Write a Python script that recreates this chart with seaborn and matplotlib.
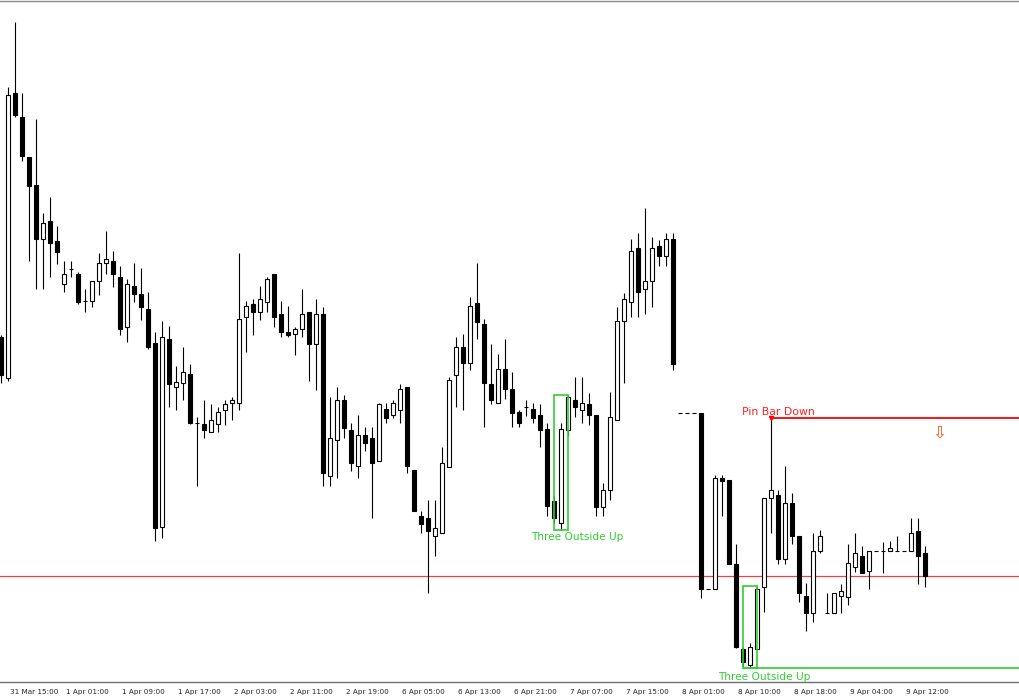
import numpy as np
import matplotlib
matplotlib.use("Agg")
import matplotlib.pyplot as plt
import matplotlib.transforms as mtransforms
from matplotlib.patches import Rectangle
import seaborn as sns

# hourly candles, first one is the bar before "31 Mar 15:00"
opens = [1.1163,
         1.1122, 1.1407, 1.1383, 1.1343, 1.1315, 1.1261, 1.1279, 1.1259,
         1.1216, 1.1231, 1.1226, 1.1199, 1.1199, 1.1219, 1.1237, 1.1239,
         1.1223, 1.1173, 1.1214, 1.1206, 1.1191, 1.1157, 1.0973, 1.1161,
         1.1113, 1.1117, 1.1126, 1.1077, 1.1076, 1.1068, 1.1076, 1.1090,
         1.1097, 1.1097, 1.1183, 1.1196, 1.1188, 1.1198, 1.1226, 1.1186,
         1.1168, 1.1166, 1.1171, 1.1188, 1.1156, 1.1186, 1.1024, 1.1060,
         1.1100, 1.1070, 1.1034, 1.1065, 1.1062, 1.1039, 1.1091, 1.1085,
         1.1090, 1.1113, 1.1030, 1.0984, 1.0982, 1.0964, 1.0967, 1.1033,
         1.1125, 1.1153, 1.1137, 1.1197, 1.1176, 1.1116, 1.1097, 1.1131,
         1.1111, 1.1088, 1.1093, 1.1091, 1.1085, 1.1071, 1.0999, 1.0977,
         1.1070, 1.1100, 1.1090, 1.1096, 1.1085, 1.0993, 1.1010, 1.1080,
         1.1179, 1.1198, 1.1252, 1.1211, 1.1219, 1.1254, 1.1244, 1.1261,
         1.1087, 1.1087, 1.1087, 1.1087, 1.0911, 1.0911, 1.1022, 1.1020,
         1.0936, 1.0851, 1.0835, 1.0851, 1.0913, 1.1002, 1.1005, 1.0941,
         1.0997, 1.0964, 1.0904, 1.0887, 1.0949, 1.0887, 1.0887, 1.0904,
         1.0903, 1.0933, 1.0944, 1.0929, 1.0949, 1.0949, 1.0949, 1.0949,
         1.0949, 1.0949, 1.0969, 1.0947]

highs = [1.1165,
         1.1413, 1.1478, 1.1407, 1.1343, 1.1381, 1.1287, 1.1303, 1.1274,
         1.1239, 1.1239, 1.1228, 1.1211, 1.1219, 1.1247, 1.1269, 1.1249,
         1.1234, 1.1221, 1.1237, 1.1232, 1.1208, 1.1168, 1.1179, 1.1174,
         1.1134, 1.1153, 1.1136, 1.1083, 1.1100, 1.1096, 1.1093, 1.1100,
         1.1103, 1.1247, 1.1199, 1.1201, 1.1214, 1.1223, 1.1226, 1.1199,
         1.1194, 1.1173, 1.1211, 1.1188, 1.1201, 1.1193, 1.1103, 1.1113,
         1.1105, 1.1077, 1.1085, 1.1073, 1.1073, 1.1097, 1.1097, 1.1100,
         1.1116, 1.1113, 1.1030, 1.0989, 1.1000, 1.1000, 1.1053, 1.1123,
         1.1163, 1.1166, 1.1203, 1.1237, 1.1181, 1.1156, 1.1146, 1.1161,
         1.1128, 1.1090, 1.1100, 1.1097, 1.1096, 1.1077, 1.1004, 1.1077,
         1.1105, 1.1123, 1.1123, 1.1107, 1.1085, 1.1017, 1.1108, 1.1193,
         1.1207, 1.1261, 1.1267, 1.1292, 1.1263, 1.1260, 1.1267, 1.1267,
         1.1087, 1.1087, 1.1087, 1.1087, 1.0911, 1.1025, 1.1025, 1.1020,
         1.0956, 1.0853, 1.0857, 1.0914, 1.1002, 1.1082, 1.1010, 1.1034,
         1.1007, 1.0964, 1.0917, 1.0967, 1.0970, 1.0907, 1.0907, 1.0916,
         1.0956, 1.0967, 1.0954, 1.0949, 1.0949, 1.0958, 1.0959, 1.0964,
         1.0949, 1.0982, 1.0982, 1.0954]

lows = [1.1117,
        1.1119, 1.1383, 1.1339, 1.1239, 1.1211, 1.1211, 1.1223, 1.1236,
        1.1208, 1.1223, 1.1196, 1.1188, 1.1193, 1.1205, 1.1226, 1.1213,
        1.1165, 1.1158, 1.1198, 1.1180, 1.1151, 1.0959, 1.0962, 1.1093,
        1.1090, 1.1100, 1.1076, 1.1014, 1.1062, 1.1068, 1.1068, 1.1075,
        1.1080, 1.1090, 1.1148, 1.1165, 1.1180, 1.1188, 1.1173, 1.1163,
        1.1163, 1.1145, 1.1163, 1.1119, 1.1110, 1.1014, 1.1014, 1.1022,
        1.1062, 1.1029, 1.1022, 1.1049, 1.0982, 1.1039, 1.1077, 1.1082,
        1.1077, 1.1027, 1.0989, 1.0967, 1.0907, 1.0944, 1.0967, 1.1033,
        1.1093, 1.1090, 1.1130, 1.1161, 1.1073, 1.1096, 1.1097, 1.1101,
        1.1073, 1.1073, 1.1084, 1.1077, 1.1053, 1.0984, 1.0977, 1.0970,
        1.1064, 1.1083, 1.1077, 1.1075, 1.0984, 1.0984, 1.1000, 1.1080,
        1.1117, 1.1183, 1.1183, 1.1186, 1.1193, 1.1234, 1.1234, 1.1130,
        1.1087, 1.1087, 1.1087, 1.0902, 1.0911, 1.0911, 1.0984, 1.0936,
        1.0852, 1.0832, 1.0832, 1.0851, 1.0888, 1.0967, 1.0936, 1.0936,
        1.0956, 1.0898, 1.0869, 1.0878, 1.0947, 1.0887, 1.0887, 1.0887,
        1.0895, 1.0928, 1.0927, 1.0911, 1.0949, 1.0927, 1.0949, 1.0949,
        1.0949, 1.0949, 1.0916, 1.0913]

closes = [1.1125,
          1.1405, 1.1385, 1.1344, 1.1314, 1.1261, 1.1277, 1.1257, 1.1248,
          1.1226, 1.1231, 1.1198, 1.1199, 1.1219, 1.1237, 1.1241, 1.1226,
          1.1171, 1.1216, 1.1206, 1.1193, 1.1153, 1.0972, 1.1163, 1.1116,
          1.1118, 1.1128, 1.1077, 1.1077, 1.1070, 1.1080, 1.1088, 1.1096,
          1.1100, 1.1181, 1.1194, 1.1188, 1.1201, 1.1221, 1.1183, 1.1168,
          1.1165, 1.1171, 1.1186, 1.1156, 1.1186, 1.1027, 1.1062, 1.1100,
          1.1072, 1.1037, 1.1065, 1.1057, 1.1037, 1.1096, 1.1082, 1.1097,
          1.1111, 1.1034, 1.0989, 1.0976, 1.0969, 1.0972, 1.1037, 1.1120,
          1.1153, 1.1137, 1.1194, 1.1178, 1.1117, 1.1100, 1.1131, 1.1111,
          1.1087, 1.1077, 1.1093, 1.1082, 1.1070, 1.0994, 1.0982, 1.1071,
          1.1103, 1.1093, 1.1097, 1.1085, 1.0993, 1.1010, 1.1083, 1.1179,
          1.1201, 1.1249, 1.1208, 1.1219, 1.1252, 1.1244, 1.1261, 1.1136,
          1.1087, 1.1087, 1.1087, 1.0911, 1.0911, 1.1022, 1.1019, 1.0936,
          1.0853, 1.0838, 1.0853, 1.0911, 1.1002, 1.1010, 1.0941, 1.0997,
          1.0964, 1.0907, 1.0887, 1.0949, 1.0964, 1.0887, 1.0907, 1.0909,
          1.0937, 1.0947, 1.0927, 1.0949, 1.0949, 1.0949, 1.0952, 1.0949,
          1.0949, 1.0967, 1.0944, 1.0924]

tick_labels = ["31 Mar 15:00", "1 Apr 01:00", "1 Apr 09:00", "1 Apr 17:00",
               "2 Apr 03:00", "2 Apr 11:00", "2 Apr 19:00", "6 Apr 05:00",
               "6 Apr 13:00", "6 Apr 21:00", "7 Apr 07:00", "7 Apr 15:00",
               "8 Apr 01:00", "8 Apr 10:00", "8 Apr 18:00", "9 Apr 04:00",
               "9 Apr 12:00"]

support_level = 1.0924
pin_bar = 109
outside_up = [(78, 80), (105, 107)]

sns.set_style("white")
plt.rcParams["font.family"] = ["DejaVu Sans"]

o = np.array(opens)
h = np.array(highs)
l = np.array(lows)
c = np.array(closes)
x = np.arange(len(o)) - 1
up = c >= o

fig = plt.figure(figsize=(10.2, 7), dpi=100)
ax = fig.add_axes([0, 18 / 700, 1, 681 / 700])

# wicks then bodies
ax.vlines(x, l, h, color="black", linewidth=0.8, zorder=2)
body_h = np.maximum(np.abs(c - o), 1e-7)
ax.bar(x, body_h, bottom=np.minimum(o, c), width=0.6,
       color=np.where(up, "white", "black"), edgecolor="black",
       linewidth=0.8, zorder=3)

x_left, x_right = -8 / 7, (1020 - 8) / 7
ax.set_xlim(x_left, x_right)
ax.set_ylim(1.0818, 1.1499)

# support line
ax.axhline(support_level, color="#f04040", linewidth=0.9, zorder=1)

# pin bar down
pin_level = h[pin_bar + 1]
ax.hlines(pin_level, pin_bar, x_right, color="red", linewidth=1.3, zorder=4)
ax.plot(pin_bar, pin_level, marker="v", color="red", markersize=3, zorder=5)
ax.text(pin_bar + 1.1, pin_level + 0.0006, "Pin Bar Down", color="#ff2020",
        fontsize=7.8, ha="center", va="center", zorder=5)
ax.text(133, 1.1067, "\u21e9", color="#ff4a1a", fontsize=12,
        ha="center", va="center", zorder=5)

# three outside up patterns
green = "#32cd32"
for k, (a, b) in enumerate(outside_up):
    lo = l[a + 1:b + 2].min()
    hi = h[a + 1:b + 2].max()
    ax.add_patch(Rectangle((a, lo), b - a, hi - lo, fill=False,
                           edgecolor=green, linewidth=1.2, zorder=4))
    if k == 1:
        ax.hlines(lo, a, x_right, color=green, linewidth=1.2, zorder=4)
        ax.text(a + 3.1, lo - 0.0009, "Three Outside Up", color=green,
                fontsize=7.6, ha="center", va="center", zorder=5)
    else:
        ax.text(a + 3.3, lo - 0.0007, "Three Outside Up", color=green,
                fontsize=7.6, ha="center", va="center", zorder=5)

# axis styling
sns.despine(ax=ax, left=True, right=True, top=False, bottom=False)
ax.spines["top"].set_color("#8a8a8a")
ax.spines["bottom"].set_color("#707070")
ax.spines["top"].set_linewidth(1.0)
ax.spines["bottom"].set_linewidth(1.0)
ax.set_yticks([])
ax.set_xticks(np.arange(len(tick_labels)) * 8)
ax.set_xticklabels(tick_labels, fontsize=5.2, ha="left")
ax.tick_params(axis="x", direction="out", length=3, width=0.8,
               color="#555555", pad=2)
offset = mtransforms.ScaledTranslation(2 / 100, 0, fig.dpi_scale_trans)
for lab in ax.get_xticklabels():
    lab.set_transform(lab.get_transform() + offset)

fig.savefig("out.png", dpi=100)
